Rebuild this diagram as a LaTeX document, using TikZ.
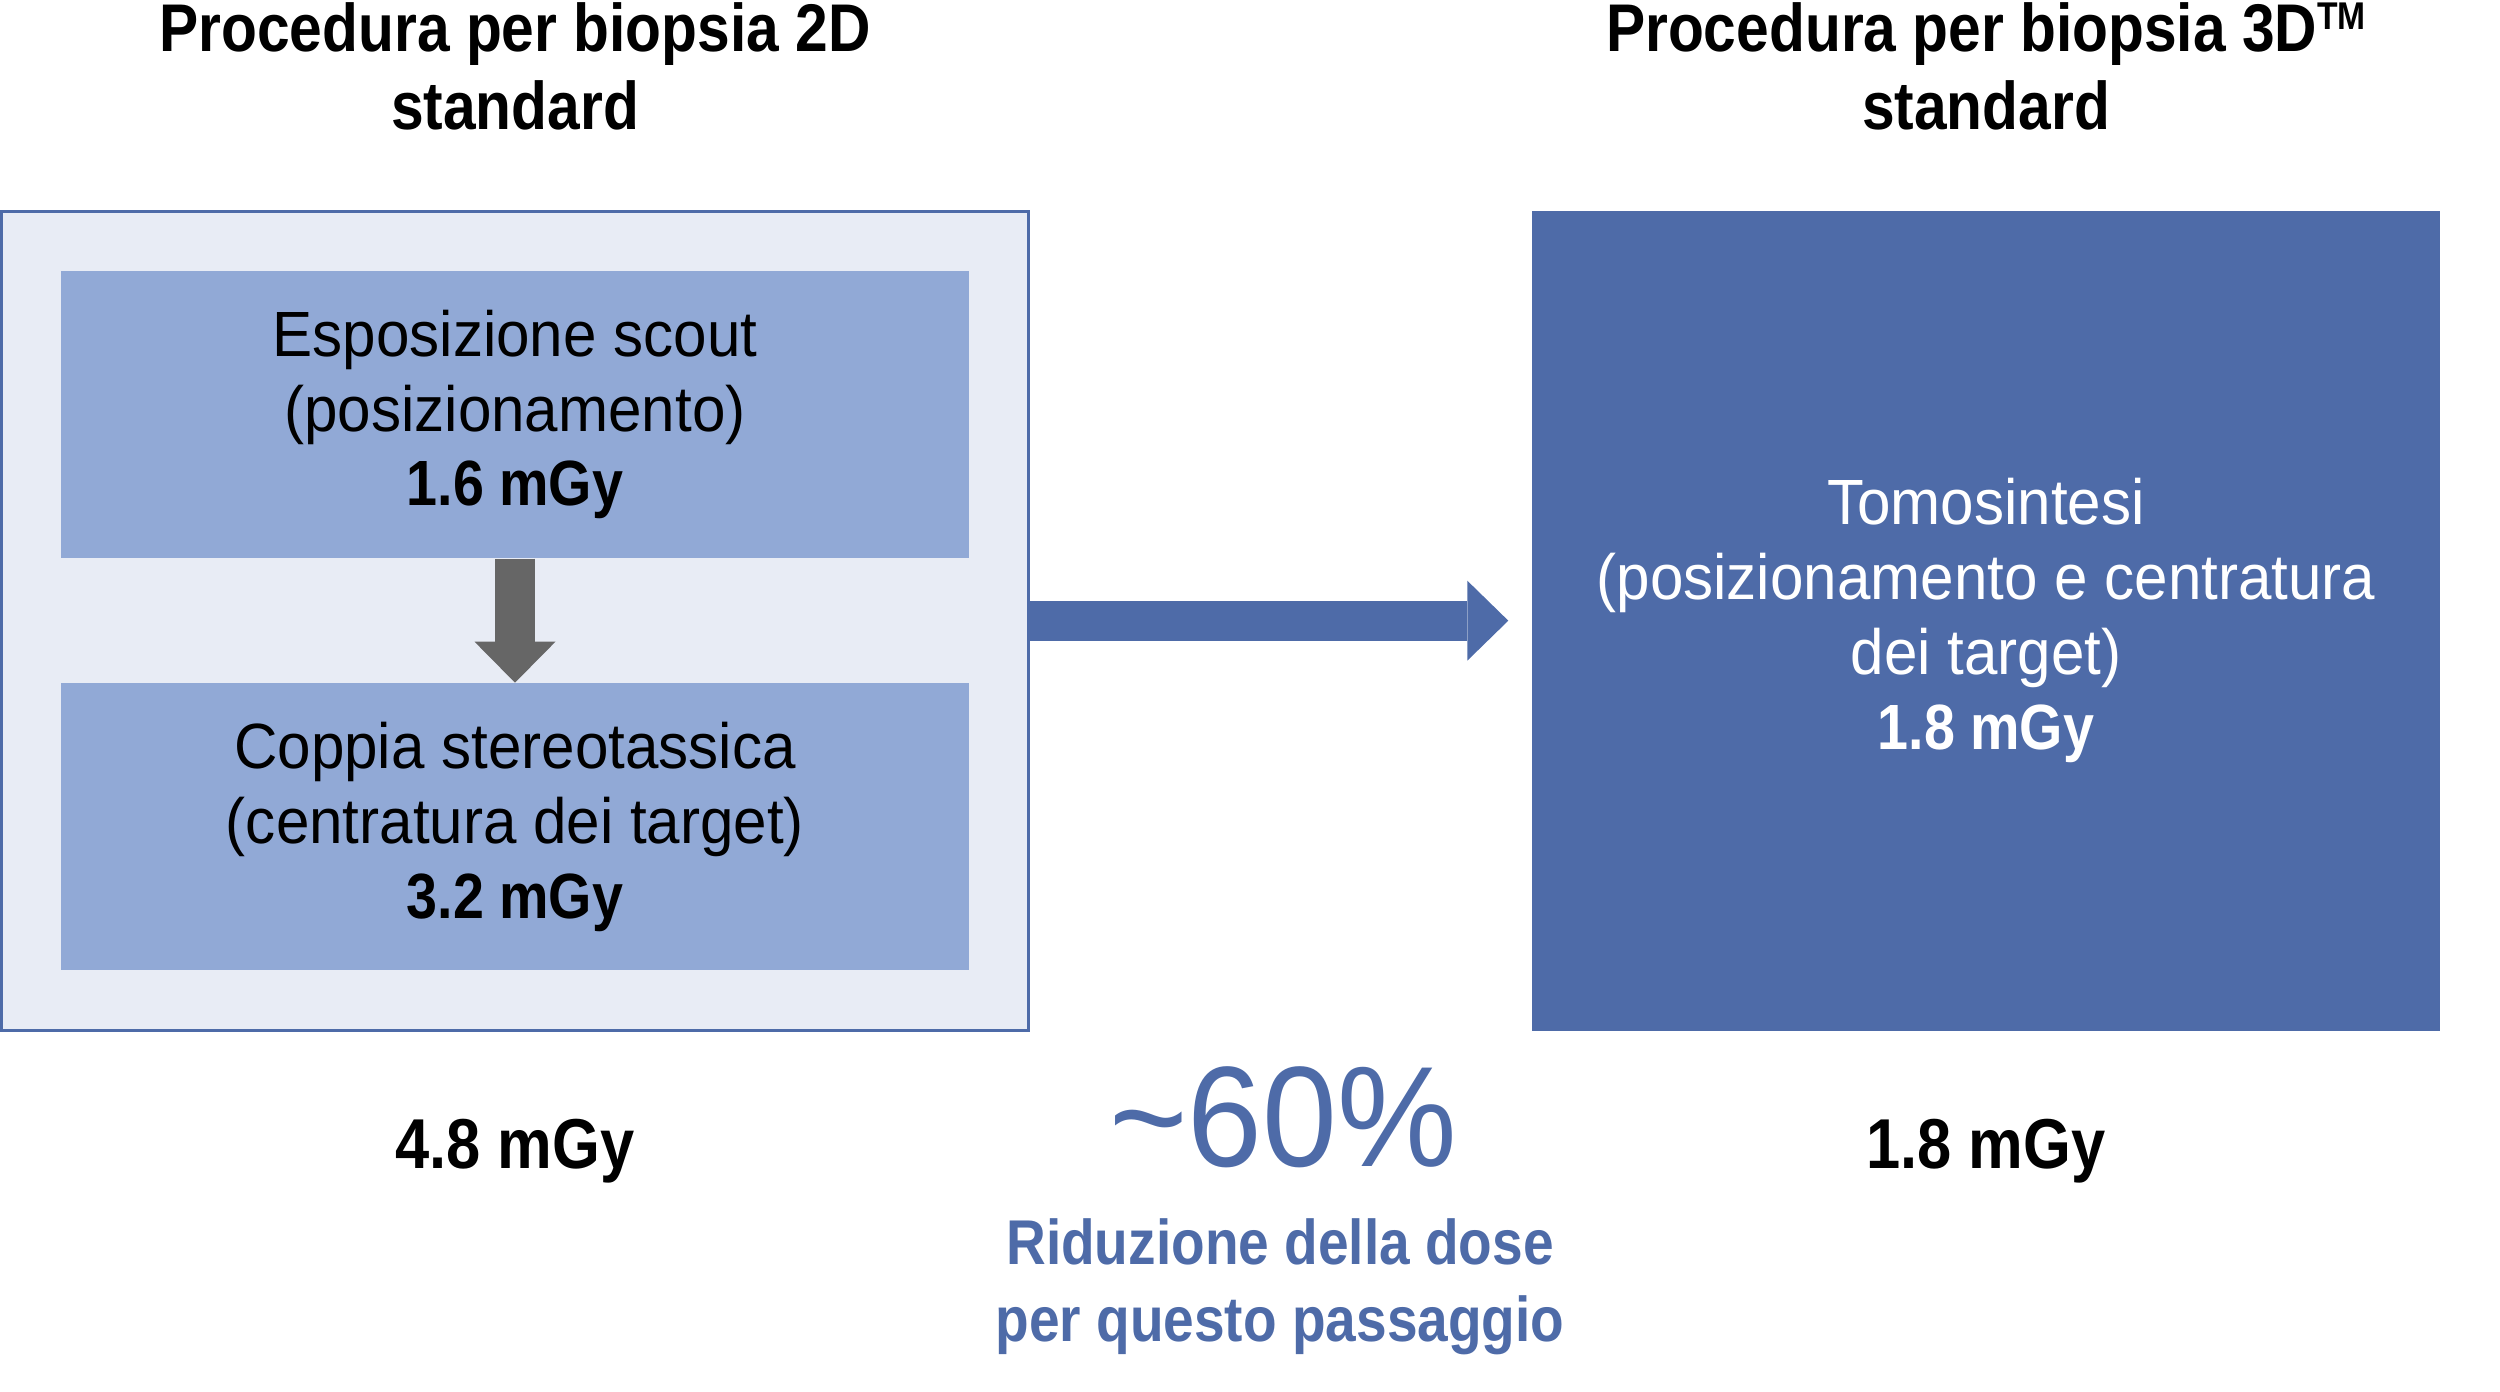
\documentclass[tikz,border=0pt]{standalone}
\usepackage{fontspec}
\setmainfont{Liberation Sans}
\newfontfamily\bodyfont[FakeStretch=0.94]{Liberation Sans}
\newfontfamily\headfont[FakeStretch=0.87]{Liberation Sans}
\usepackage{xcolor}
\usetikzlibrary{arrows.meta, positioning, fit, backgrounds}
\definecolor{dosenavy}{HTML}{4E6BA8}
\definecolor{doselight}{HTML}{91A9D6}
\definecolor{dosepale}{HTML}{E8ECF5}
\definecolor{dosegray}{HTML}{666666}
\newcommand{\tmmark}{\raisebox{6.3pt}{\fontsize{11pt}{11pt}\selectfont TM}}

\begin{document}
\begin{tikzpicture}[
    node distance=1cm,
    stepbox/.style={fill=doselight, minimum width=9.08cm, minimum height=2.87cm, inner sep=0pt, align=center, font=\bodyfont\fontsize{18.2pt}{21.3pt}\selectfont},
    tomobox/.style={fill=dosenavy, text=white, minimum width=9.08cm, minimum height=8.2cm, inner sep=0pt, align=center, font=\bodyfont\fontsize{18.2pt}{21.3pt}\selectfont},
    headline/.style={inner sep=0pt, align=center, font=\headfont\bfseries\fontsize{19.2pt}{22.2pt}\selectfont},
    valuelabel/.style={inner sep=0pt, font=\headfont\bfseries\fontsize{20.1pt}{24pt}\selectfont},
    grayarrow/.style={draw=dosegray, line width=0.4cm, -{Triangle[length=0.41cm, width=0.81cm, line width=0pt]}},
    bluearrow/.style={draw=dosenavy, line width=0.4cm, -{Triangle[length=0.41cm, width=0.80cm, line width=0pt]}},
]
\useasboundingbox (0,0) rectangle (25,13.92);

% 2D procedure steps
\node[stepbox] (scout) at (5.15,9.775) {Esposizione scout\\(posizionamento)\\{\headfont\bfseries 1.6 mGy}};
\node[stepbox, below=1.24cm of scout] (coppia) {Coppia stereotassica\\(centratura dei target)\\{\headfont\bfseries 3.2 mGy}};

\begin{scope}[on background layer]
\node[draw=dosenavy, line width=0.9pt, fill=dosepale, inner sep=0.59cm, fit=(scout)(coppia)] (outer) {};
\end{scope}

% 3D procedure
\node[tomobox, right=5.01cm of outer] (tomo) {Tomosintesi\\(posizionamento e centratura\\dei target)\\{\headfont\bfseries 1.8 mGy}};

% Titles
\node[headline, above=0.79cm of outer] (title2d) {Procedura per biopsia 2D\\standard};
\node[headline, above=0.79cm of tomo] (title3d) {Procedura per biopsia 3D\tmmark\\standard};

% Totals
\node[valuelabel, below=0.87cm of outer] (dose2d) {4.8 mGy};
\node[valuelabel, below=0.87cm of tomo] (dose3d) {1.8 mGy};

% Reduction
\node[inner sep=0pt, anchor=base, text=dosenavy, font=\bodyfont\fontsize{40.7pt}{48pt}\selectfont] (pct) at (12.83,2.25) {\textasciitilde 60\%};
\node[inner sep=0pt, anchor=north, align=center, text=dosenavy, font=\headfont\bfseries\fontsize{18pt}{21.9pt}\selectfont] (redux) at (12.80,1.74) {Riduzione della dose\\per questo passaggio};

% Arrows
\draw[grayarrow] (scout) -- (coppia);
\draw[bluearrow] (outer.east) -- ([xshift=-0.23cm]tomo.west);

\end{tikzpicture}
\end{document}
